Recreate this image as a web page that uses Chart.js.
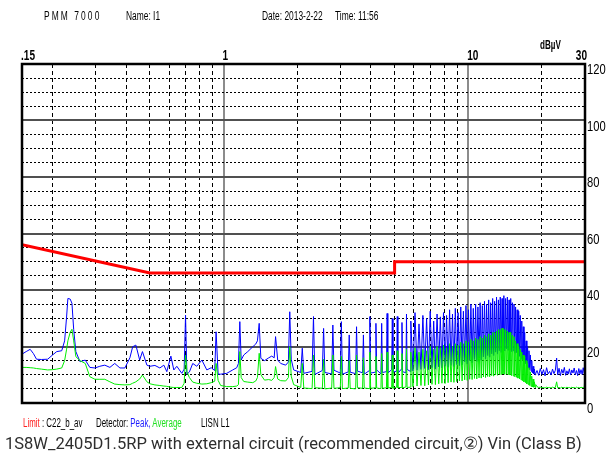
<!DOCTYPE html>
<html lang="en">
<head>
<meta charset="utf-8">
<title>PMM 7000 - conducted emission</title>
<script src="https://cdn.jsdelivr.net/npm/chart.js@4.4.1/dist/chart.umd.min.js"></script>
<style>
  html, body { margin:0; padding:0; background:#fff; }
  #quadro { position:relative; width:608px; height:460px; overflow:hidden; }
  #grafico { position:absolute; left:0; top:0; }
  .txt { position:absolute; white-space:nowrap; font-family:"Liberation Sans",Arial,sans-serif; color:#000;
         transform:scaleX(0.7); transform-origin:0 0; }
  .cab { top:9px; font-size:12px; }
  .leg { top:416px; font-size:12px; transform:scaleX(0.66); }
  #legenda { position:absolute; left:5px; top:434px; white-space:nowrap; font-family:Roboto,"Noto Sans",sans-serif; font-size:16.5px; color:#2e2e2e; }
</style>
</head>
<body>
<div id="quadro">
  <canvas id="grafico" width="608" height="460"></canvas>

  <div class="txt cab" style="left:44px; letter-spacing:3px;">PMM 7000</div>
  <div class="txt cab" style="left:126px;">Name: I1</div>
  <div class="txt cab" style="left:262px;">Date: 2013-2-22</div>
  <div class="txt cab" style="left:335px;">Time: 11:56</div>
  <div class="txt" style="left:540px; top:37px; font-size:13px; font-weight:bold; transform:scaleX(0.62);">dBµV</div>

  <div class="txt leg" style="left:23px;"><span style="color:#ff2020">Limit</span> : C22_b_av</div>
  <div class="txt leg" style="left:96px;">Detector: <span style="color:#1a1aff">Peak,</span> <span style="color:#20e020">Average</span></div>
  <div class="txt leg" style="left:201px;">LISN L1</div>

  <div id="legenda">1S8W_2405D1.5RP with external circuit (recommended circuit,②) Vin (Class B)</div>
</div>

<script>
////////////////////////////////////////////////////////////////////////////
// Dados: frequência em MHz, nível em dBµV
////////////////////////////////////////////////////////////////////////////

// limite CISPR 22 classe B (média)
const limiteMHz = [0.15, 0.5, 5, 5, 30];
const limiteDb  = [56, 46, 46, 50, 50];

// linhas de grade e rótulos dos eixos
const gradeMHz    = [0.15, 0.2, 0.3, 0.4, 0.5, 0.6, 0.7, 0.8, 0.9, 1, 2, 3, 4, 5, 6, 7, 8, 9, 10, 20, 30];
const rotulosMHz  = [0.15, 1, 10, 30];
const rotulosTxt  = ['.15', '1', '10', '30'];
const rotulosDb   = [0, 20, 40, 60, 80, 100, 120];

// trecho baixo 0.15 - 2 MHz (pico e média)
const baixaMHz = [
  0.150,0.156,0.162,0.167,0.172,0.180,0.191,0.200,0.208,0.218,
  0.224,0.228,0.231,0.236,0.240,0.244,0.249,0.259,0.272,0.284,
  0.298,0.312,0.327,0.343,0.359,0.377,0.395,0.414,0.425,0.438,
  0.454,0.466,0.486,0.500,0.524,0.549,0.570,0.586,0.609,0.626,
  0.644,0.675,0.690,0.699,0.708,0.725,0.748,0.777,0.815,0.854,
  0.890,0.920,0.932,0.950,0.973,1.030,1.090,1.132,1.150,1.165,
  1.180,1.209,1.256,1.316,1.354,1.375,1.398,1.420,1.470,1.530,
  1.573,1.610,1.631,1.664,1.711,1.794,1.840,1.864,1.890,1.934,
  2.067
];
const baixaPico = [
  17.3,18.2,19.0,17.5,15.5,15.4,15.5,17.0,18.2,18.5,
  22.0,30.0,37.0,36.8,35.3,26.0,18.2,14.6,15.2,12.6,
  12.4,13.0,13.4,12.6,14.0,12.4,12.4,16.0,19.9,20.5,
  15.2,18.2,13.4,13.0,13.3,12.4,13.4,11.1,16.6,11.7,
  13.0,10.5,12.0,31.1,10.2,11.0,14.0,13.0,15.2,11.7,
  12.5,11.5,25.2,10.2,10.2,10.5,11.7,12.5,14.0,28.8,
  15.2,17.0,18.2,19.9,20.9,22.0,28.2,15.8,15.0,16.0,
  16.6,16.0,23.5,15.2,14.0,13.4,14.5,32.3,15.5,11.7,
  10.8
];
const baixaMedia = [
  12.6,12.6,12.5,12.4,12.2,12.0,11.7,11.8,12.0,12.4,
  15.0,18.8,22.0,25.0,26.1,22.0,16.4,15.0,14.0,9.3,
  8.4,8.4,8.4,7.5,6.7,6.5,6.4,6.5,7.0,7.5,
  8.5,9.9,7.5,6.8,6.4,6.2,6.0,5.9,5.6,5.5,
  5.5,5.5,7.0,17.0,11.1,9.0,7.4,7.0,6.7,6.8,
  7.2,7.7,14.0,8.0,6.2,5.8,5.8,6.0,6.5,18.2,
  9.0,7.6,7.4,7.2,7.8,9.0,17.6,10.0,8.1,8.3,
  8.0,9.0,12.9,8.5,7.9,7.8,9.0,19.9,9.5,6.5,
  5.5
];

// harmônicas do conversor (topo de cada pico), 2.1 - 18.9 MHz
const harmMHz = [
  2.097,2.330,2.563,2.796,3.029,3.262,3.495,3.728,3.961,4.194,
  4.427,4.660,4.893,5.126,5.359,5.592,5.825,6.058,6.291,6.524,
  6.757,6.990,7.223,7.456,7.689,7.922,8.155,8.388,8.621,8.854,
  9.087,9.320,9.553,9.786,10.019,10.252,10.485,10.718,10.951,11.184,
  11.417,11.650,11.883,12.116,12.349,12.582,12.815,13.048,13.281,13.514,
  13.747,13.980,14.213,14.446,14.679,14.912,15.145,15.378,15.611,15.844,
  16.077,16.310,16.543,16.776,17.009,17.242,17.475,17.708,17.941,18.174,
  18.407,18.640,18.873
];
const harmPico = [
  19.4,30.6,26.4,27.6,28.8,24.1,27.0,24.1,30.6,28.2,
  28.2,31.7,29.9,30.6,28.5,31.5,29.0,32.0,28.0,31.0,
  30.0,32.5,29.0,31.5,30.5,32.0,31.0,33.0,31.5,33.5,
  32.0,34.0,32.5,34.5,33.0,35.0,33.5,35.0,34.0,35.5,
  34.5,36.0,35.0,36.5,35.5,37.0,36.0,37.5,36.5,37.5,
  37.0,38.0,37.0,37.5,36.5,37.0,35.5,35.0,34.0,33.0,
  32.5,31.0,29.0,27.0,25.0,22.0,20.0,18.5,17.0,15.0,
  13.0,12.0,10.5
];
const harmMedia = [
  14.0,17.0,15.5,17.0,16.5,15.0,17.0,16.0,18.0,16.5,
  17.5,18.0,17.0,18.5,17.5,19.0,18.0,19.5,18.0,19.0,
  18.5,20.0,19.0,20.0,19.5,20.5,19.5,21.0,20.0,21.0,
  20.5,21.5,21.0,22.0,21.5,22.5,22.0,23.0,22.5,23.5,
  23.0,24.0,23.5,24.5,24.0,25.0,25.0,25.5,26.0,26.0,
  26.5,26.0,26.0,25.5,25.0,25.0,24.0,23.5,22.0,21.0,
  20.0,19.0,18.0,17.0,16.5,15.0,14.0,12.5,11.0,9.5,
  8.5,7.5,6.5
];

// vales entre as harmônicas
const valeMHz = [
  2.127,2.300,2.360,2.533,2.593,2.766,2.826,2.999,3.059,3.232,
  3.292,3.465,3.525,3.698,3.758,3.931,3.991,4.164,4.224,4.397,
  4.457,4.630,4.690,4.863,4.923,5.096,5.156,5.329,5.389,5.562,
  5.622,5.795,
  5.942,6.175,6.408,6.641,6.874,7.107,7.340,7.573,7.806,8.039,
  8.272,8.505,8.738,8.971,9.204,
  9.437,9.670,9.903,10.136,10.369,10.602,10.835,11.068,11.301,11.534,
  11.767,12.000,12.233,12.466,12.699,12.932,13.165,13.398,13.631,13.864,
  14.097,14.330,14.563,14.796,15.029,15.262,15.495,15.728,15.961,16.194,
  16.427,16.660,16.893,17.126,17.359,17.592,17.825,18.058,18.291,18.524,
  18.757
];
const valePico = [
  10.5,11.2,10.1,11.5,10.8,10.3,11.6,10.6,10.2,11.0,
  10.9,10.4,11.3,10.7,10.2,11.4,10.6,10.9,11.7,10.3,
  10.8,11.1,10.6,11.8,10.9,11.3,10.5,12.0,11.1,10.7,
  11.9,11.2,
  11.3,11.6,11.9,12.2,11.8,12.5,12.0,12.8,12.4,13.0,
  12.6,13.3,12.9,13.6,13.2,
  13.5,14.6,13.8,15.0,14.2,15.4,14.7,15.9,15.1,16.3,
  15.6,16.8,16.2,17.4,16.8,18.0,17.3,18.5,17.9,19.0,
  18.4,19.2,18.6,18.9,18.2,18.5,17.6,17.8,16.9,16.5,
  15.8,15.2,14.5,13.9,13.0,12.5,11.8,11.2,10.6,10.3,
  10.0
];
const valeMedia = [
  5.3,5.1,5.4,5.2,5.0,5.3,5.2,5.4,5.1,5.3,
  5.2,5.0,5.4,5.2,5.3,5.1,5.2,5.4,5.3,5.1,
  5.2,5.4,5.3,5.5,5.2,5.6,5.4,5.5,5.3,5.7,
  5.5,5.6,
  5.8,6.0,6.2,6.1,6.4,6.6,6.5,6.8,7.0,6.9,
  7.2,7.4,7.3,7.6,7.8,
  7.8,8.2,8.0,8.4,8.3,8.7,8.5,8.9,8.8,9.2,
  9.0,9.4,9.3,9.7,9.5,9.9,9.8,10.1,10.0,10.3,
  10.1,10.2,10.0,9.9,9.7,9.6,9.3,9.1,8.8,8.5,
  8.2,7.9,7.5,7.2,6.8,6.5,6.2,5.9,5.7,5.6,
  5.5
];

// ruído final 19 - 30 MHz
const caudaMHz = [
  19.1,19.4,19.7,20.0,20.3,20.6,20.9,21.2,21.5,21.8,
  22.1,22.4,22.7,22.97,23.2,23.5,23.8,24.1,24.4,24.7,
  25.0,25.3,25.6,25.9,26.2,26.5,26.8,27.1,27.4,27.7,
  28.0,28.3,28.6,28.9,29.2,29.5,29.8,30.0
];
const caudaPico = [
  11.5,9.8,12.2,10.1,11.8,9.6,12.5,10.3,11.2,9.9,
  12.0,10.4,11.6,15.9,10.0,12.3,9.7,11.9,10.5,12.6,
  9.8,11.4,10.2,12.1,9.9,11.7,10.6,12.4,10.0,11.5,
  9.7,12.2,10.3,11.8,10.1,12.5,10.4,14.6
];
const caudaMedia = [
  5.8,5.5,5.6,5.4,5.5,5.3,5.6,5.4,5.5,5.3,
  5.6,5.4,5.5,7.5,5.4,5.5,5.3,5.6,5.4,5.5,
  5.3,5.6,5.4,5.5,5.3,5.6,5.4,5.5,5.3,5.6,
  5.4,5.5,5.3,5.6,5.4,5.5,5.6,11.0
];

////////////////////////////////////////////////////////////////////////////
// Montagem do gráfico
////////////////////////////////////////////////////////////////////////////
(function(){
  'use strict';

  function pontos(freqs, vals){
    return freqs.map((f, i) => ({x: f, y: vals[i]}));
  }
  function juntar(grupos){
    return [].concat(...grupos).sort((a, b) => a.x - b.x);
  }

  const limite = pontos(limiteMHz, limiteDb);
  const pico = juntar([
    pontos(baixaMHz, baixaPico), pontos(harmMHz, harmPico),
    pontos(valeMHz, valePico), pontos(caudaMHz, caudaPico)
  ]);
  const media = juntar([
    pontos(baixaMHz, baixaMedia), pontos(harmMHz, harmMedia),
    pontos(valeMHz, valeMedia), pontos(caudaMHz, caudaMedia)
  ]);

  const ehPrincipalX = v => v === 1 || v === 10;
  const ehBordaX = v => v === 0.15 || v === 30;

  // texto estreito (fonte condensada do PMM)
  function textoEstreito(ctx, txt, x, y, alinhar, escala){
    ctx.save();
    ctx.translate(x, y);
    ctx.scale(escala, 1);
    ctx.textAlign = alinhar;
    ctx.fillText(txt, 0, 0);
    ctx.restore();
  }

  // moldura preta e rótulos dos eixos
  const molduraPlugin = {
    id: 'moldura',
    afterDraw(chart){
      const {ctx, chartArea: a} = chart;
      const x = chart.scales.x, y = chart.scales.y;
      ctx.save();
      ctx.strokeStyle = '#000';
      ctx.lineWidth = 2.5;
      ctx.strokeRect(a.left, a.top, a.right - a.left, a.bottom - a.top);

      ctx.fillStyle = '#000';
      ctx.textBaseline = 'alphabetic';
      ctx.font = 'bold 14px "Liberation Sans"';
      const ultimo = rotulosMHz.length - 1;
      rotulosMHz.forEach((f, i) => {
        const px = x.getPixelForValue(f);
        if (i === ultimo) textoEstreito(ctx, rotulosTxt[i], px + 2, a.top - 4, 'right', 0.72);
        else textoEstreito(ctx, rotulosTxt[i], px - 1, a.top - 4, 'left', 0.72);
      });

      ctx.font = '14px "Liberation Sans"';
      rotulosDb.forEach(v => {
        textoEstreito(ctx, String(v), a.right + 2, y.getPixelForValue(v) + 10, 'left', 0.8);
      });
      ctx.restore();
    }
  };

  const ctx = document.getElementById('grafico').getContext('2d');
  new Chart(ctx, {
    type: 'line',
    data: {
      datasets: [
        { label: 'Limit', data: limite, borderColor: '#ff0000', borderWidth: 3, pointRadius: 0, tension: 0 },
        { label: 'Average', data: media, borderColor: '#00ee00', borderWidth: 1, pointRadius: 0, tension: 0 },
        { label: 'Peak', data: pico, borderColor: '#0000ff', borderWidth: 1, pointRadius: 0, tension: 0 }
      ]
    },
    options: {
      responsive: false,
      animation: false,
      layout: { padding: { left: 22, top: 64, right: 23, bottom: 57 } },
      plugins: { legend: { display: false }, tooltip: { enabled: false } },
      scales: {
        x: {
          type: 'logarithmic',
          position: 'top',
          min: 0.15,
          max: 30,
          afterBuildTicks: s => { s.ticks = gradeMHz.map(v => ({value: v})); },
          ticks: { display: false },
          grid: {
            drawTicks: false,
            color: c => ehBordaX(c.tick.value) ? 'rgba(0,0,0,0)' : (ehPrincipalX(c.tick.value) ? '#8c8c8c' : '#000'),
            lineWidth: c => ehPrincipalX(c.tick.value) ? 2 : 1
          },
          border: { display: false, dash: c => ehPrincipalX(c.tick.value) ? [] : [4, 3] }
        },
        y: {
          position: 'right',
          min: 0,
          max: 120,
          ticks: { display: false, stepSize: 5, autoSkip: false },
          grid: {
            drawTicks: false,
            color: c => c.tick.value % 20 === 0 ? '#505050' : '#000',
            lineWidth: c => c.tick.value % 20 === 0 ? 2 : 1
          },
          border: { display: false, dash: c => c.tick.value % 20 === 0 ? [] : [2, 2] }
        }
      }
    },
    plugins: [molduraPlugin]
  });
})();
</script>
</body>
</html>
